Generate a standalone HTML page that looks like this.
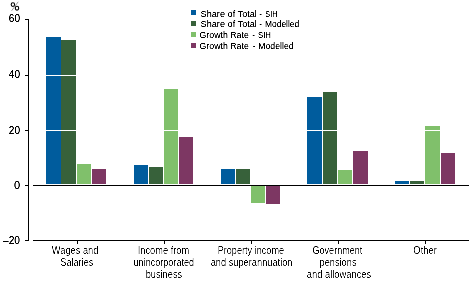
<!DOCTYPE html>
<html><head><meta charset="utf-8"><style>html,body{margin:0;padding:0;background:#fff;width:472px;height:283px;overflow:hidden}</style></head>
<body><svg width="472" height="283" viewBox="0 0 472 283" style="display:block;will-change:transform">
<defs><filter id="cx" x="0" y="0" width="472" height="283" filterUnits="userSpaceOnUse"><feComponentTransfer><feFuncA type="linear" slope="2.4" intercept="-0.8"/></feComponentTransfer></filter><filter id="cl" x="0" y="0" width="472" height="283" filterUnits="userSpaceOnUse"><feComponentTransfer><feFuncA type="linear" slope="2.0" intercept="-0.35"/></feComponentTransfer></filter><filter id="cy" x="0" y="0" width="472" height="283" filterUnits="userSpaceOnUse"><feComponentTransfer><feFuncA type="linear" slope="2.0" intercept="-0.3"/></feComponentTransfer></filter></defs>
<g shape-rendering="crispEdges"><rect x="46" y="37" width="15" height="147" fill="#005C9D"/><rect x="61" y="40" width="15" height="144" fill="#37613A"/><rect x="77" y="164" width="14" height="20" fill="#80C06B"/><rect x="92" y="169" width="14" height="15" fill="#7D3763"/><rect x="134" y="165" width="14" height="19" fill="#005C9D"/><rect x="149" y="167" width="14" height="17" fill="#37613A"/><rect x="164" y="89" width="14" height="95" fill="#80C06B"/><rect x="179" y="137" width="14" height="47" fill="#7D3763"/><rect x="221" y="169" width="14" height="15" fill="#005C9D"/><rect x="236" y="169" width="14" height="15" fill="#37613A"/><rect x="251" y="186" width="14" height="17" fill="#80C06B"/><rect x="266" y="186" width="14" height="18" fill="#7D3763"/><rect x="307" y="97" width="15" height="87" fill="#005C9D"/><rect x="323" y="92" width="14" height="92" fill="#37613A"/><rect x="338" y="170" width="14" height="14" fill="#80C06B"/><rect x="353" y="151" width="15" height="33" fill="#7D3763"/><rect x="395" y="181" width="14" height="3" fill="#005C9D"/><rect x="410" y="181" width="14" height="3" fill="#37613A"/><rect x="425" y="126" width="15" height="58" fill="#80C06B"/><rect x="441" y="153" width="14" height="31" fill="#7D3763"/><rect x="33" y="75" width="436" height="1" fill="#fff"/><rect x="33" y="130" width="436" height="1" fill="#fff"/><rect x="28" y="19" width="1" height="222" fill="#000"/><rect x="25" y="19" width="3" height="1" fill="#000"/><rect x="25" y="75" width="3" height="1" fill="#000"/><rect x="25" y="130" width="3" height="1" fill="#000"/><rect x="25" y="185" width="3" height="1" fill="#000"/><rect x="25" y="240" width="3" height="1" fill="#000"/><rect x="33" y="185" width="436" height="1" fill="#000"/><rect x="33" y="240" width="436" height="1" fill="#000"/><rect x="77" y="240" width="1" height="4" fill="#000"/><rect x="164" y="240" width="1" height="4" fill="#000"/><rect x="251" y="240" width="1" height="4" fill="#000"/><rect x="338" y="240" width="1" height="4" fill="#000"/><rect x="425" y="240" width="1" height="4" fill="#000"/><rect x="191" y="10" width="5" height="5" fill="#005C9D"/><rect x="191" y="21" width="5" height="5" fill="#37613A"/><rect x="191" y="32" width="5" height="5" fill="#80C06B"/><rect x="191" y="43" width="5" height="5" fill="#7D3763"/></g>
<g fill="none" stroke="#000"><ellipse cx="12.9" cy="4.6" rx="1.7" ry="1.9" stroke-width="1.1"/><ellipse cx="17.0" cy="8.2" rx="1.7" ry="1.9" stroke-width="1.1"/><line x1="18.2" y1="1.8" x2="11.6" y2="10.8" stroke-width="0.6" stroke="#555"/></g>
<g font-family="Liberation Sans, sans-serif" fill="#000" filter="url(#cy)"><text x="20" y="22" font-size="11" text-anchor="end" textLength="11.2" lengthAdjust="spacingAndGlyphs">60</text><text x="20" y="78" font-size="11" text-anchor="end" textLength="11.2" lengthAdjust="spacingAndGlyphs">40</text><text x="20" y="134" font-size="11" text-anchor="end" textLength="11.2" lengthAdjust="spacingAndGlyphs">20</text><text x="20" y="189" font-size="11" text-anchor="end">0</text><text x="20" y="244" font-size="11" text-anchor="end" textLength="17" lengthAdjust="spacingAndGlyphs">&#8211;20</text></g>
<g font-family="Liberation Sans, sans-serif" fill="#000" filter="url(#cl)"><text x="200.59" y="17" font-size="9.5" text-anchor="start" textLength="56.31" lengthAdjust="spacingAndGlyphs">Share of Total</text><text x="259.34" y="17" font-size="9.5" text-anchor="start" textLength="2.73" lengthAdjust="spacingAndGlyphs">-</text><text x="265.37" y="17" font-size="9.5" text-anchor="start" textLength="12.02" lengthAdjust="spacingAndGlyphs">SIH</text><text x="200.59" y="27" font-size="9.5" text-anchor="start" textLength="56.31" lengthAdjust="spacingAndGlyphs">Share of Total</text><text x="259.34" y="27" font-size="9.5" text-anchor="start" textLength="2.73" lengthAdjust="spacingAndGlyphs">-</text><text x="265.01" y="27" font-size="9.5" text-anchor="start" textLength="34.24" lengthAdjust="spacingAndGlyphs">Modelled</text><text x="199.56" y="38" font-size="9.5" text-anchor="start" textLength="49.23" lengthAdjust="spacingAndGlyphs">Growth Rate</text><text x="252.14" y="38" font-size="9.5" text-anchor="start" textLength="2.73" lengthAdjust="spacingAndGlyphs">-</text><text x="257.95" y="38" font-size="9.5" text-anchor="start" textLength="12.99" lengthAdjust="spacingAndGlyphs">SIH</text><text x="199.56" y="48.8" font-size="9.5" text-anchor="start" textLength="49.23" lengthAdjust="spacingAndGlyphs">Growth Rate</text><text x="252.64" y="48.8" font-size="9.5" text-anchor="start" textLength="2.73" lengthAdjust="spacingAndGlyphs">-</text><text x="258.29" y="48.8" font-size="9.5" text-anchor="start" textLength="35.27" lengthAdjust="spacingAndGlyphs">Modelled</text></g>
<g font-family="Liberation Sans, sans-serif" fill="#000" filter="url(#cx)"><text x="75.1" y="254" font-size="10" text-anchor="middle" textLength="46.5" lengthAdjust="spacingAndGlyphs">Wages and</text><text x="76.8" y="266" font-size="10" text-anchor="middle" textLength="33" lengthAdjust="spacingAndGlyphs">Salaries</text><text x="163.5" y="254" font-size="10" text-anchor="middle" textLength="51.5" lengthAdjust="spacingAndGlyphs">Income from</text><text x="163.8" y="266" font-size="10" text-anchor="middle" textLength="60.5" lengthAdjust="spacingAndGlyphs">unincorporated</text><text x="163.9" y="278" font-size="10" text-anchor="middle" textLength="36.5" lengthAdjust="spacingAndGlyphs">business</text><text x="250.9" y="254" font-size="10" text-anchor="middle" textLength="66.5" lengthAdjust="spacingAndGlyphs">Property income</text><text x="251.6" y="266" font-size="10" text-anchor="middle" textLength="81.8" lengthAdjust="spacingAndGlyphs">and superannuation</text><text x="337.4" y="254" font-size="10" text-anchor="middle" textLength="49.8" lengthAdjust="spacingAndGlyphs">Government</text><text x="338" y="266" font-size="10" text-anchor="middle" textLength="37" lengthAdjust="spacingAndGlyphs">pensions</text><text x="339" y="278" font-size="10" text-anchor="middle" textLength="64.5" lengthAdjust="spacingAndGlyphs">and allowances</text><text x="425.1" y="254" font-size="10" text-anchor="middle" textLength="23.5" lengthAdjust="spacingAndGlyphs">Other</text></g>
</svg></body></html>
